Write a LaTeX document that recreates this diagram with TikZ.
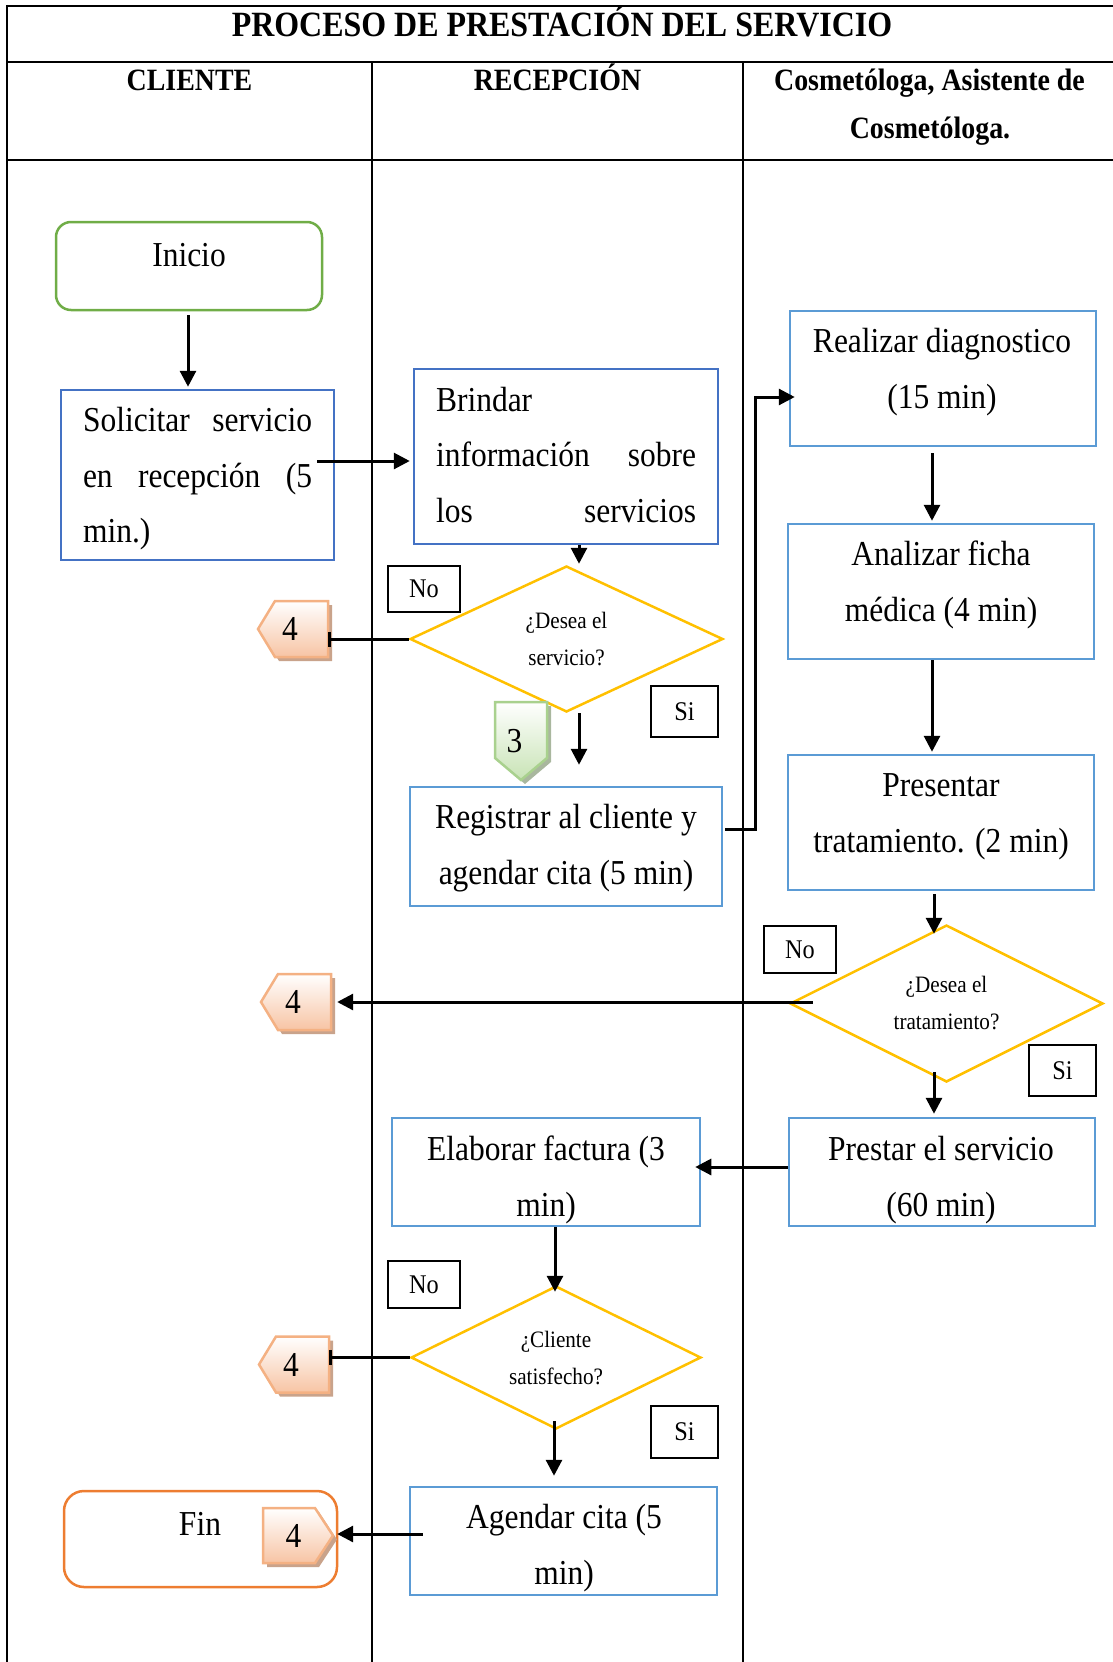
\documentclass[tikz,border=0pt]{standalone}
\usepackage{fontspec}
\setmainfont{Liberation Serif}[FakeStretch=0.9]
\usetikzlibrary{arrows.meta,calc,shapes.geometric}

\definecolor{boxblue}{HTML}{4472C4}
\definecolor{boxsky}{HTML}{5B9BD5}
\definecolor{startgreen}{HTML}{70AD47}
\definecolor{endorange}{HTML}{ED7D31}
\definecolor{decgold}{HTML}{FFC000}
\definecolor{pageline}{HTML}{F4B183}
\definecolor{pagefill}{HTML}{F7C4A4}
\definecolor{pageshadow}{HTML}{C9A38B}
\definecolor{nextline}{HTML}{A9D18E}
\definecolor{nextfill}{HTML}{C8E3B5}
\definecolor{nextshadow}{HTML}{A9B79E}

\newcommand\fbody{\fontsize{35}{55.5}\selectfont}
\newcommand\fsmall{\fontsize{23.5}{37}\selectfont}
\newcommand\flabel{\fontsize{27}{30}\selectfont}
\newcommand\ftitle{\fontsize{35.5}{40}\selectfont\bfseries}
\newcommand\fhead{\fontsize{31}{48}\selectfont\bfseries}

% off-page connector pointing left, centred on #2
\newcommand\offL[3]{%
  \fill[pageshadow] ($(#2)+(39,-24)$) -- ($(#2)+(39,32)$) -- ($(#2)+(-14,32)$)
    -- ($(#2)+(-31,4)$) -- ($(#2)+(-14,-24)$) -- cycle;
  \path[pagebody] ($(#2)+(35,-28)$) -- ($(#2)+(35,28)$) -- ($(#2)+(-18,28)$)
    -- ($(#2)+(-35,0)$) -- ($(#2)+(-18,-28)$) -- cycle;
  \node[pent, minimum width=70pt, minimum height=56pt] (#1) at (#2) {#3};}
% off-page connector pointing right
\newcommand\offR[3]{%
  \fill[pageshadow] ($(#2)+(-31,-23.5)$) -- ($(#2)+(21,-23.5)$) -- ($(#2)+(39,4)$)
    -- ($(#2)+(21,31.5)$) -- ($(#2)+(-31,31.5)$) -- cycle;
  \path[pagebody] ($(#2)+(-35,-27.5)$) -- ($(#2)+(17,-27.5)$) -- ($(#2)+(35,0)$)
    -- ($(#2)+(17,27.5)$) -- ($(#2)+(-35,27.5)$) -- cycle;
  \node[pent, minimum width=70pt, minimum height=55pt] (#1) at (#2) {#3};}
% on-page connector pointing down
\newcommand\offD[3]{%
  \fill[nextshadow] ($(#2)+(-22,-35)$) -- ($(#2)+(30,-35)$) -- ($(#2)+(30,21)$)
    -- ($(#2)+(4,43)$) -- ($(#2)+(-22,21)$) -- cycle;
  \path[nextbody] ($(#2)+(-26,-39)$) -- ($(#2)+(26,-39)$) -- ($(#2)+(26,17)$)
    -- ($(#2)+(0,39)$) -- ($(#2)+(-26,17)$) -- cycle;
  \node[pent, minimum width=52pt, minimum height=78pt] (#1) at (#2) {#3};}

\begin{document}
\begin{tikzpicture}[x=1pt,y=-1pt,
  grid/.style={line width=2pt},
  proc/.style={rectangle, draw=boxsky, line width=2.5pt, inner sep=0pt},
  term/.style={rectangle, rounded corners=15pt, line width=2.5pt, inner sep=0pt},
  dec/.style={diamond, draw=decgold, line width=2.5pt, inner sep=0pt,
    shape aspect=2.1, font=\fsmall, align=center},
  tag/.style={rectangle, draw, line width=1.6pt, fill=white, inner sep=0pt, font=\flabel},
  txt/.style={font=\fbody, align=center, inner sep=0pt},
  pent/.style={inner sep=0pt, font=\fbody},
  pagebody/.style={top color=white, bottom color=pagefill, draw=pageline, line width=2.5pt},
  nextbody/.style={top color=white, bottom color=nextfill, draw=nextline, line width=2.5pt},
  arr/.style={line width=3pt, -{Triangle[length=16pt,width=16pt]}},
  barr/.style={line width=3pt, -{Bar[width=15pt]}}]
\useasboundingbox (0,0) rectangle (1112,1662);

% table frame
\draw[grid] (7,6) -- (1113,6);
\draw[grid] (7,62) -- (1113,62);
\draw[grid] (7,160) -- (1113,160);
\draw[grid] (7,5) -- (7,1663);
\draw[grid] (372,62) -- (372,1663);
\draw[grid] (743,62) -- (743,1663);

\node[font=\ftitle, anchor=base, inner sep=0pt] (title) at (562,37) {PROCESO DE PRESTACIÓN DEL SERVICIO};
\node[font=\fhead, anchor=base, inner sep=0pt] (hcli) at (189.5,90) {CLIENTE};
\node[font=\fhead, anchor=base, inner sep=0pt] (hrec) at (557.5,90) {RECEPCIÓN};
\node[font=\fhead, anchor=base, inner sep=0pt] (hcos) at (929.5,90) {Cosmetóloga, Asistente de};
\node[font=\fhead, anchor=base, inner sep=0pt] (hcos2) at (930,138) {Cosmetóloga.};

% process boxes
\node[term, draw=startgreen, minimum width=266pt, minimum height=88pt] (inicio) at (189,266) {};
\node[proc, draw=boxblue, minimum width=273pt, minimum height=170pt] (sol) at (197.5,475) {};
\node[proc, draw=boxblue, minimum width=304pt, minimum height=175pt] (brin) at (566,456.5) {};
\node[dec, minimum width=313pt, minimum height=146pt] (d1) at (566.5,639) {¿Desea el\\servicio?};
\node[proc, minimum width=312pt, minimum height=119pt] (reg) at (566,846.5) {};
\node[proc, minimum width=306pt, minimum height=135pt] (real) at (943,378.5) {};
\node[proc, minimum width=306pt, minimum height=135pt] (anal) at (941,591.5) {};
\node[proc, minimum width=306pt, minimum height=135pt] (pres) at (941,822.5) {};
\node[dec, minimum width=313pt, minimum height=157pt] (d2) at (946.5,1003.5) {¿Desea el\\tratamiento?};
\node[proc, minimum width=306pt, minimum height=108pt] (prest) at (942,1172) {};
\node[proc, minimum width=308pt, minimum height=108pt] (elab) at (546,1172) {};
\node[dec, minimum width=290pt, minimum height=143pt] (d3) at (556,1357.5) {¿Cliente\\satisfecho?};
\node[proc, minimum width=307pt, minimum height=108pt] (agen) at (563.5,1541) {};
\node[term, draw=endorange, rounded corners=20pt, minimum width=273pt, minimum height=96pt] (fin) at (200.5,1539) {};

% box texts
\node[txt] (tini) at (189,255) {Inicio};
\node[txt, text width=229pt, align=left] (tsol) at (197.5,479)
  {\noindent Solicitar\hfill servicio\\en\hfill recepción\hfill (5\\min.)};
\node[txt, text width=260pt, align=left] (tbrin) at (566,455)
  {\noindent Brindar\\información\hfill sobre\\los\hfill servicios};
\node[txt] (treg) at (566,848) {Registrar al cliente y\\agendar cita (5 min)};
\node[txt] (treal) at (942,372) {Realizar diagnostico\\(15 min)};
\node[txt] (tanal) at (941,585) {Analizar ficha\\médica (4 min)};
\node[txt] (tpres) at (941,817) {Presentar\\tratamiento. (2 min)};
\node[txt] (tprest) at (941,1180) {Prestar el servicio\\(60 min)};
\node[txt] (telab) at (546,1180) {Elaborar factura (3\\min)};
\node[txt] (tagen) at (564,1548) {Agendar cita (5\\min)};
\node[txt] (tfin) at (200,1524) {Fin};

% connectors to other points of the chart
\offL{p1}{293,629}{\hspace*{-6pt}4}
\offL{p2}{296,1002}{\hspace*{-6pt}4}
\offL{p3}{294,1364.5}{\hspace*{-6pt}4}
\offR{p4}{298,1535.5}{\hspace*{-9pt}4}
\offD{p5}{521,741}{\hspace*{-13pt}3}

% decision labels
\node[tag, minimum width=72pt, minimum height=46pt] (no1) at (424,589) {No};
\node[tag, minimum width=67pt, minimum height=51pt] (si1) at (684.5,711.5) {Si};
\node[tag, minimum width=72pt, minimum height=47pt] (no2) at (800,949.5) {No};
\node[tag, minimum width=67pt, minimum height=51pt] (si2) at (1062.5,1070.5) {Si};
\node[tag, minimum width=72pt, minimum height=47pt] (no3) at (424,1284.5) {No};
\node[tag, minimum width=67pt, minimum height=52pt] (si3) at (684.5,1432) {Si};

% flow
\draw[arr] ($(inicio.south)+(-1,4)$) -- ($(inicio.south |- sol.north)+(-1,-2)$);
\draw[arr] ($(sol.east)+(-18,-14)$) -- ($(sol.east -| brin.west)+(-3,-14)$);
\draw[arr] ($(brin.south)+(13,0)$) -- ($(d1.north)+(12.5,-1)$);
\draw[barr] (d1.west) -- (d1.west -| p1.east);
\draw[arr] ($(d1.south)+(12.5,0)$) -- ($(reg.north)+(13,-21)$);
\draw[arr] ($(reg.east)+(2,-17.5)$) -- ++(30,0) |- ($(real.west)+(6,18.5)$);
\draw[arr] ($(real.south)+(-11,6)$) -- ($(anal.north)+(-9,-2)$);
\draw[arr] ($(anal.south)+(-9,0)$) -- ($(pres.north)+(-9,-2)$);
\draw[arr] ($(pres.south)+(-7,3)$) -- ($(d2.north)+(-12.5,10)$);
\draw[arr] ($(d2.west)+(24,-1.5)$) -- ($(d2.west -| p2.east)+(6,-1.5)$);
\draw[arr] ($(d2.south)+(-12.5,-11)$) -- ($(prest.north)+(-8,-3)$);
\draw[arr] ($(prest.west)+(0,-5)$) -- ($(elab.east)+(-6,-5)$);
\draw[arr] ($(elab.south)+(9,0)$) -- ($(d3.north)+(-1,7)$);
\draw[barr] (d3.west) -- (d3.west -| p3.east);
\draw[arr] ($(d3.south)+(-2,-9)$) -- ($(agen.north)+(-9.5,-10)$);
\draw[arr] ($(agen.west)+(14,-7)$) -- ($(agen.west -| p4.east)+(4,-7)$);
\end{tikzpicture}
\end{document}
